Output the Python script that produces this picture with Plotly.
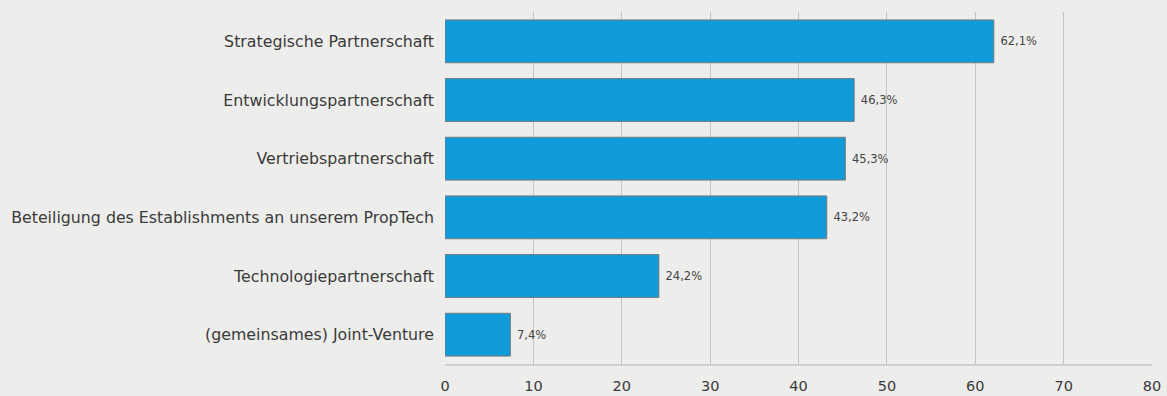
import plotly.graph_objects as go

categories = [
    "Strategische Partnerschaft",
    "Entwicklungspartnerschaft",
    "Vertriebspartnerschaft",
    "Beteiligung des Establishments an unserem PropTech",
    "Technologiepartnerschaft",
    "(gemeinsames) Joint-Venture",
]
values = [62.1, 46.3, 45.3, 43.2, 24.2, 7.4]
tick_values = [0, 10, 20, 30, 40, 50, 60, 70, 80]

labels = [" " + f"{v:.1f}%".replace(".", ",") for v in values]

fig = go.Figure(
    go.Bar(
        x=values,
        y=categories,
        orientation="h",
        marker=dict(color="#0e9bd8", line=dict(color="#7a7a7a", width=1)),
        width=0.73,
        text=labels,
        textposition="outside",
        textfont=dict(size=11.5, color="#444444", family="DejaVu Sans"),
        cliponaxis=False,
    )
)

bg = "#ededeb"
fig.update_layout(
    width=1167,
    height=396,
    margin=dict(l=445, r=15, t=12, b=32),
    paper_bgcolor=bg,
    plot_bgcolor=bg,
    font=dict(family="DejaVu Sans, sans-serif", color="#3a3a3a", size=14),
    showlegend=False,
    bargap=0.27,
)
fig.update_xaxes(
    automargin=False,
    range=[0, 80],
    tickvals=tick_values,
    showgrid=True,
    gridcolor="#c4c4c4",
    gridwidth=1,
    zeroline=False,
    showline=True,
    linecolor="#d0d0d0",
    linewidth=2,
    ticks="",
    ticklabelstandoff=8,
    tickfont=dict(size=14.5, color="#3a3a3a"),
)
fig.update_yaxes(
    automargin=False,
    autorange="reversed",
    showgrid=False,
    showline=False,
    ticks="",
    ticklabelstandoff=10,
    tickfont=dict(size=15.8, color="#3a3a3a"),
)

fig.write_html("out.html")
